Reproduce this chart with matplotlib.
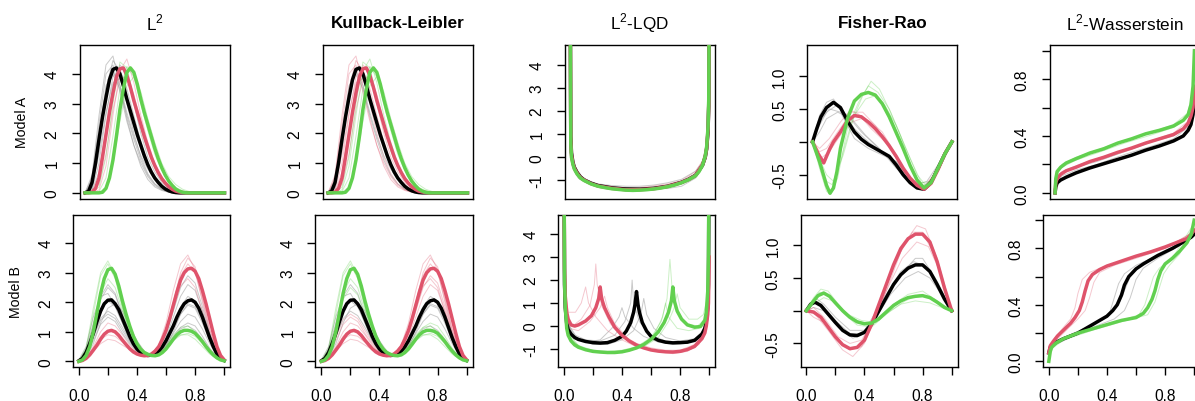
import numpy as np
import matplotlib.pyplot as plt

plt.rcParams['font.family'] = ['Liberation Sans', 'DejaVu Sans']
plt.rcParams['mathtext.fontset'] = 'custom'
plt.rcParams['mathtext.rm'] = 'Liberation Sans'
plt.rcParams['mathtext.bf'] = 'Liberation Sans:bold'

BLACK = 'black'
RED = '#DF536B'
GREEN = '#61D04F'
GRAY = '#9E9E9E'

grid41 = np.linspace(0, 1, 41)
grid21 = np.linspace(0, 1, 21)

# ---------------- densities, model A (L2 / KL) ----------------
densA_black = [0, 0.05, 0.35, 1.0, 1.8, 2.55, 3.2, 3.8, 4.15, 4.2, 4.0, 3.6, 3.15, 2.75,
               2.35, 1.95, 1.6, 1.25, 0.95, 0.7, 0.5, 0.35, 0.22, 0.13, 0.07, 0.03, 0.01,
               0, 0, 0, 0, 0, 0, 0, 0, 0, 0, 0, 0, 0, 0]
densA_red = [0, 0, 0.02, 0.15, 0.5, 1.2, 1.95, 2.7, 3.35, 3.9, 4.17, 4.2, 3.95, 3.55, 3.1,
             2.7, 2.3, 1.9, 1.55, 1.2, 0.92, 0.68, 0.48, 0.33, 0.21, 0.12, 0.06, 0.03, 0.01,
             0, 0, 0, 0, 0, 0, 0, 0, 0, 0, 0, 0]
densA_green = [0, 0, 0, 0, 0, 0.02, 0.15, 0.5, 1.1, 1.9, 2.8, 3.5, 4.05, 4.2, 4.05, 3.65,
               3.15, 2.7, 2.3, 1.9, 1.5, 1.15, 0.85, 0.6, 0.4, 0.25, 0.13, 0.06, 0.02,
               0, 0, 0, 0, 0, 0, 0, 0, 0, 0, 0, 0]
densA_samples = [
    [0, 0.6, 2.6, 4.3, 4.6, 3.6, 2.5, 1.6, 0.9, 0.45, 0.2, 0.08, 0.02, 0, 0, 0, 0, 0, 0, 0, 0],
    [0, 0.2, 1.3, 2.7, 3.7, 3.85, 3.2, 2.3, 1.5, 0.9, 0.5, 0.25, 0.1, 0.03, 0, 0, 0, 0, 0, 0, 0],
    [0, 0.05, 0.7, 2.1, 3.6, 4.3, 4.0, 3.0, 2.0, 1.2, 0.7, 0.35, 0.15, 0.05, 0.01, 0, 0, 0, 0, 0, 0],
    [0, 0, 0.3, 1.3, 2.8, 3.8, 3.95, 3.3, 2.4, 1.6, 0.95, 0.5, 0.25, 0.1, 0.03, 0, 0, 0, 0, 0, 0],
    [0, 0, 0.05, 0.5, 1.9, 3.5, 4.25, 3.9, 3.0, 2.1, 1.3, 0.75, 0.4, 0.18, 0.07, 0.02, 0, 0, 0, 0, 0],
    [0, 0, 0, 0.2, 1.0, 2.4, 3.6, 3.9, 3.4, 2.5, 1.7, 1.0, 0.55, 0.28, 0.12, 0.04, 0.01, 0, 0, 0, 0],
    [0, 0.4, 2.0, 3.6, 4.0, 3.5, 2.6, 1.8, 1.1, 0.6, 0.3, 0.12, 0.04, 0, 0, 0, 0, 0, 0, 0, 0],
    [0, 0.3, 1.8, 3.5, 4.45, 4.1, 3.0, 2.0, 1.2, 0.65, 0.3, 0.12, 0.04, 0.01, 0, 0, 0, 0, 0, 0, 0],
    [0, 0, 0.1, 0.9, 2.6, 4.1, 4.5, 3.7, 2.6, 1.7, 1.0, 0.55, 0.25, 0.1, 0.03, 0, 0, 0, 0, 0, 0],
    [0, 0.5, 2.3, 4.0, 4.3, 3.4, 2.4, 1.6, 1.0, 0.55, 0.25, 0.1, 0.03, 0, 0, 0, 0, 0, 0, 0, 0],
    [0, 0.1, 1.0, 2.6, 3.9, 4.15, 3.5, 2.6, 1.7, 1.0, 0.55, 0.28, 0.12, 0.04, 0.01, 0, 0, 0, 0, 0, 0],
    [0, 0, 0.2, 1.2, 3.0, 4.4, 4.2, 3.2, 2.2, 1.4, 0.85, 0.45, 0.2, 0.08, 0.02, 0, 0, 0, 0, 0, 0],
    [0, 0.15, 1.5, 3.3, 4.1, 3.6, 2.7, 1.9, 1.25, 0.8, 0.45, 0.22, 0.1, 0.04, 0.01, 0, 0, 0, 0, 0, 0],
]
l2A_sample_cols = [GRAY, GRAY, GRAY, RED, GREEN, GREEN, GRAY, GRAY, RED, GRAY, GRAY, GREEN, GRAY]
klA_sample_cols = [RED, RED, RED, RED, GREEN, GREEN, GRAY, RED, GREEN, RED, RED, GREEN, GRAY]

# ---------------- densities, model B (L2 / KL) ----------------
densB_black = [0.02, 0.1, 0.3, 0.6, 0.95, 1.35, 1.7, 1.95, 2.07, 2.08, 1.95, 1.75, 1.45, 1.15,
               0.85, 0.6, 0.42, 0.3, 0.23, 0.2, 0.21, 0.25, 0.35, 0.5, 0.7, 0.95, 1.2, 1.5,
               1.75, 1.95, 2.05, 2.08, 2.0, 1.8, 1.5, 1.15, 0.8, 0.5, 0.25, 0.1, 0.03]
densB_red = [0.0, 0.03, 0.1, 0.22, 0.38, 0.55, 0.75, 0.92, 1.02, 1.05, 1.0, 0.88, 0.72, 0.57,
             0.43, 0.32, 0.25, 0.21, 0.19, 0.2, 0.25, 0.35, 0.5, 0.75, 1.05, 1.45, 1.9, 2.35,
             2.75, 3.0, 3.13, 3.15, 3.05, 2.8, 2.4, 1.95, 1.45, 0.95, 0.5, 0.2, 0.05]
densB_green = [0.0, 0.05, 0.2, 0.5, 1.0, 1.65, 2.3, 2.8, 3.1, 3.15, 2.95, 2.55, 2.05, 1.6,
               1.2, 0.85, 0.6, 0.42, 0.3, 0.24, 0.2, 0.19, 0.22, 0.3, 0.42, 0.58, 0.75, 0.9,
               1.0, 1.05, 1.05, 1.02, 0.95, 0.82, 0.67, 0.5, 0.35, 0.22, 0.12, 0.05, 0.02]
densB_samples = [
    [0, 0.4, 1.3, 2.2, 2.6, 2.3, 1.6, 0.9, 0.45, 0.25, 0.2, 0.3, 0.55, 0.95, 1.35, 1.6, 1.5, 1.1, 0.6, 0.2, 0.03],
    [0, 0.2, 0.8, 1.4, 1.6, 1.45, 1.05, 0.65, 0.35, 0.2, 0.2, 0.35, 0.8, 1.5, 2.2, 2.6, 2.4, 1.7, 0.9, 0.3, 0.05],
    [0, 0.15, 0.6, 1.3, 1.8, 1.95, 1.7, 1.2, 0.7, 0.35, 0.2, 0.25, 0.5, 1.0, 1.6, 1.95, 1.85, 1.4, 0.8, 0.3, 0.05],
    [0.05, 0.5, 1.5, 2.2, 2.3, 1.9, 1.3, 0.7, 0.35, 0.2, 0.2, 0.3, 0.5, 0.8, 1.1, 1.2, 1.05, 0.75, 0.4, 0.15, 0.02],
    [0, 0.1, 0.4, 0.75, 0.9, 0.85, 0.65, 0.45, 0.3, 0.2, 0.22, 0.45, 1.0, 2.0, 3.0, 3.5, 3.2, 2.2, 1.1, 0.35, 0.05],
    [0, 0.15, 0.5, 1.0, 1.3, 1.2, 0.9, 0.55, 0.3, 0.2, 0.2, 0.4, 0.95, 1.8, 2.55, 2.8, 2.5, 1.7, 0.85, 0.3, 0.05],
    [0.02, 0.4, 1.6, 2.9, 3.3, 2.8, 1.8, 0.95, 0.45, 0.25, 0.2, 0.28, 0.5, 0.75, 0.9, 0.9, 0.75, 0.5, 0.25, 0.08, 0.02],
    [0, 0.3, 1.2, 2.3, 2.8, 2.5, 1.7, 0.95, 0.5, 0.3, 0.22, 0.3, 0.55, 0.9, 1.15, 1.2, 1.0, 0.7, 0.35, 0.12, 0.02],
    [0, 0.25, 0.85, 1.45, 1.7, 1.55, 1.15, 0.7, 0.4, 0.22, 0.18, 0.3, 0.65, 1.2, 1.85, 2.2, 2.05, 1.5, 0.8, 0.28, 0.04],
    [0, 0.1, 0.35, 0.6, 0.75, 0.7, 0.55, 0.4, 0.28, 0.2, 0.25, 0.55, 1.3, 2.4, 3.3, 3.6, 3.1, 2.0, 0.95, 0.3, 0.04],
    [0, 0.3, 1.0, 1.75, 2.05, 1.85, 1.3, 0.75, 0.4, 0.22, 0.2, 0.3, 0.6, 1.1, 1.6, 1.9, 1.8, 1.3, 0.7, 0.25, 0.04],
    [0, 0.35, 1.2, 2.1, 2.5, 2.25, 1.55, 0.85, 0.42, 0.24, 0.2, 0.28, 0.5, 0.85, 1.15, 1.3, 1.2, 0.85, 0.45, 0.15, 0.03],
    [0, 0.45, 1.8, 3.0, 3.4, 2.9, 1.85, 1.0, 0.5, 0.27, 0.2, 0.25, 0.45, 0.7, 0.88, 0.95, 0.85, 0.6, 0.3, 0.1, 0.02],
    [0, 0.12, 0.45, 0.85, 1.05, 0.95, 0.7, 0.45, 0.3, 0.2, 0.22, 0.45, 1.05, 2.0, 2.9, 3.3, 3.0, 2.1, 1.05, 0.35, 0.05],
    [0, 0.18, 0.7, 1.25, 1.5, 1.35, 0.95, 0.6, 0.32, 0.2, 0.2, 0.38, 0.9, 1.7, 2.5, 2.9, 2.65, 1.85, 0.95, 0.32, 0.05],
]
l2B_sample_cols = [GRAY, GRAY, GRAY, GRAY, RED, RED, GREEN, GREEN, GRAY, RED,
                   GRAY, GRAY, GREEN, RED, GRAY]
klB_sample_cols = [GRAY, RED, GRAY, GRAY, RED, RED, GREEN, GREEN, GRAY, RED,
                   GRAY, GREEN, GREEN, RED, RED]

# ---------------- log quantile densities, (x, y) knots ----------------
lqdA_black = [(0, 9), (0.005, 0.9), (0.01, 0.2), (0.02, -0.2), (0.03, -0.42), (0.05, -0.65),
              (0.075, -0.85), (0.1, -0.97), (0.15, -1.12), (0.2, -1.22), (0.3, -1.32), (0.4, -1.37),
              (0.5, -1.38), (0.6, -1.34), (0.7, -1.25), (0.8, -1.08), (0.85, -0.95), (0.9, -0.78),
              (0.95, -0.35), (0.97, 0.0), (0.98, 0.35), (0.99, 1.1), (0.995, 2.2), (1, 9)]
lqdA_red = [(0, 9), (0.005, 0.8), (0.01, 0.1), (0.02, -0.25), (0.03, -0.46), (0.05, -0.68),
            (0.075, -0.88), (0.1, -0.98), (0.15, -1.14), (0.2, -1.24), (0.3, -1.34), (0.4, -1.4),
            (0.5, -1.4), (0.6, -1.36), (0.7, -1.26), (0.8, -1.09), (0.85, -0.96), (0.9, -0.79),
            (0.95, -0.33), (0.97, 0.02), (0.98, 0.4), (0.99, 1.2), (0.995, 2.3), (1, 9)]
lqdA_green = [(0, 9), (0.005, 0.6), (0.01, 0.0), (0.02, -0.3), (0.03, -0.5), (0.05, -0.72),
              (0.075, -0.9), (0.1, -1.0), (0.15, -1.15), (0.2, -1.25), (0.25, -1.31), (0.3, -1.36),
              (0.35, -1.39), (0.4, -1.42), (0.45, -1.43), (0.5, -1.42), (0.55, -1.4), (0.6, -1.37),
              (0.65, -1.33), (0.7, -1.27), (0.75, -1.2), (0.8, -1.1), (0.85, -0.97), (0.9, -0.8),
              (0.925, -0.62), (0.95, -0.35), (0.97, 0.05), (0.98, 0.45), (0.99, 1.3), (0.995, 2.5), (1, 9)]
lqdA_samples = [
    (GRAY, [(0, 8), (0.005, 1.2), (0.01, 0.3), (0.03, -0.4), (0.06, -0.75), (0.1, -0.95), (0.2, -1.15),
            (0.3, -1.22), (0.4, -1.25), (0.5, -1.25), (0.6, -1.2), (0.7, -1.1), (0.8, -0.95), (0.9, -0.6),
            (0.95, -0.2), (0.98, 0.5), (0.995, 2), (1, 8)]),
    (GRAY, [(0, 8), (0.005, 0.6), (0.01, -0.1), (0.03, -0.6), (0.06, -0.9), (0.1, -1.05), (0.2, -1.3),
            (0.3, -1.4), (0.4, -1.42), (0.5, -1.38), (0.6, -1.35), (0.7, -1.35), (0.8, -1.25), (0.9, -0.9),
            (0.95, -0.45), (0.98, 0.2), (0.995, 1.8), (1, 8)]),
    (GRAY, [(0, 8), (0.005, 1.0), (0.01, 0.2), (0.03, -0.5), (0.06, -0.85), (0.1, -1.0), (0.2, -1.2),
            (0.3, -1.3), (0.4, -1.3), (0.5, -1.32), (0.6, -1.3), (0.7, -1.25), (0.8, -1.05), (0.9, -0.7),
            (0.95, -0.3), (0.98, 0.4), (0.995, 2.2), (1, 8)]),
    (RED, [(0, 8), (0.005, 1.1), (0.01, 0.3), (0.03, -0.45), (0.06, -0.8), (0.1, -0.98), (0.2, -1.18),
           (0.3, -1.28), (0.4, -1.33), (0.5, -1.3), (0.6, -1.24), (0.7, -1.15), (0.8, -1.0), (0.9, -0.62),
           (0.95, -0.15), (0.98, 0.6), (0.995, 2.4), (1, 8)]),
    (GREEN, [(0, 8), (0.005, 0.7), (0.01, 0.0), (0.03, -0.55), (0.06, -0.88), (0.1, -1.03), (0.2, -1.27),
             (0.3, -1.38), (0.4, -1.44), (0.5, -1.45), (0.6, -1.4), (0.7, -1.3), (0.8, -1.15), (0.9, -0.85),
             (0.95, -0.4), (0.98, 0.3), (0.995, 2.0), (1, 8)]),
]

lqdB_black = [(0, 9), (0.005, 1.8), (0.01, 0.8), (0.02, 0.1), (0.03, -0.15), (0.05, -0.35),
              (0.075, -0.5), (0.1, -0.58), (0.15, -0.67), (0.2, -0.72), (0.25, -0.74), (0.3, -0.72),
              (0.35, -0.62), (0.4, -0.45), (0.43, -0.22), (0.46, 0.15), (0.48, 0.6), (0.49, 0.95),
              (0.5, 1.5), (0.51, 0.95), (0.52, 0.6), (0.54, 0.15), (0.57, -0.22), (0.6, -0.45),
              (0.65, -0.62), (0.7, -0.7), (0.75, -0.73), (0.8, -0.72), (0.85, -0.7), (0.9, -0.62),
              (0.95, -0.35), (0.97, -0.1), (0.98, 0.2), (0.99, 0.8), (0.995, 1.8), (1, 9)]
lqdB_red = [(0, 9), (0.005, 2.5), (0.01, 1.3), (0.02, 0.6), (0.03, 0.3), (0.05, 0.05), (0.075, 0.0),
            (0.1, 0.05), (0.15, 0.22), (0.19, 0.45), (0.22, 0.8), (0.24, 1.2), (0.25, 1.7), (0.26, 1.2),
            (0.28, 0.8), (0.31, 0.4), (0.35, -0.05), (0.4, -0.4), (0.45, -0.65), (0.5, -0.83),
            (0.55, -0.95), (0.6, -1.04), (0.65, -1.09), (0.7, -1.12), (0.75, -1.13), (0.8, -1.1),
            (0.85, -1.02), (0.9, -0.88), (0.95, -0.55), (0.97, -0.3), (0.98, 0.0), (0.99, 0.5),
            (0.995, 1.0), (1, 3)]
lqdB_green = [(0, 9), (0.005, 2.0), (0.01, 0.8), (0.02, -0.1), (0.03, -0.4), (0.05, -0.65),
              (0.075, -0.82), (0.1, -0.92), (0.15, -1.03), (0.2, -1.1), (0.25, -1.13), (0.3, -1.15),
              (0.35, -1.15), (0.4, -1.12), (0.45, -1.05), (0.5, -0.95), (0.55, -0.8), (0.6, -0.58),
              (0.65, -0.25), (0.69, 0.15), (0.72, 0.6), (0.74, 1.1), (0.75, 1.7), (0.76, 1.1),
              (0.78, 0.65), (0.81, 0.3), (0.85, 0.05), (0.9, -0.05), (0.94, -0.02), (0.97, 0.25),
              (0.98, 0.6), (0.99, 1.5), (0.995, 3), (1, 9)]
lqdB_samples = [
    (RED, [(0, 6), (0.01, 1.2), (0.03, 0.3), (0.06, 0.0), (0.12, 0.3), (0.18, 0.9), (0.21, 1.8), (0.22, 2.7),
           (0.23, 1.8), (0.26, 0.9), (0.32, 0.1), (0.4, -0.4), (0.5, -0.75), (0.6, -0.95), (0.7, -1.05),
           (0.8, -1.05), (0.9, -0.8), (0.96, -0.3), (0.99, 0.6), (1, 3)]),
    (RED, [(0, 6), (0.01, 1.5), (0.03, 0.6), (0.08, 0.6), (0.12, 1.0), (0.15, 1.7), (0.17, 1.0), (0.22, 0.4),
           (0.3, -0.2), (0.4, -0.6), (0.5, -0.9), (0.6, -1.05), (0.7, -1.15), (0.8, -1.15), (0.9, -0.95),
           (0.96, -0.5), (0.99, 0.3), (1, 2)]),
    (RED, [(0, 5), (0.01, 0.8), (0.04, -0.1), (0.1, -0.2), (0.18, 0.2), (0.25, 0.8), (0.28, 1.3), (0.3, 0.8),
           (0.35, 0.1), (0.45, -0.6), (0.55, -0.95), (0.65, -1.1), (0.75, -1.2), (0.85, -1.1), (0.93, -0.8),
           (0.98, -0.1), (1, 2)]),
    (GRAY, [(0, 6), (0.01, 1.0), (0.03, 0.1), (0.08, -0.4), (0.15, -0.6), (0.25, -0.65), (0.35, -0.4),
            (0.42, 0.2), (0.46, 1.0), (0.47, 2.0), (0.48, 1.0), (0.52, 0.2), (0.6, -0.4), (0.7, -0.65),
            (0.8, -0.7), (0.9, -0.6), (0.96, -0.3), (0.99, 0.5), (1, 4)]),
    (GRAY, [(0, 5), (0.02, 0.3), (0.06, -0.4), (0.15, -0.7), (0.25, -0.6), (0.33, -0.1), (0.38, 0.4),
            (0.4, 0.8), (0.42, 0.4), (0.48, -0.1), (0.55, -0.45), (0.65, -0.7), (0.75, -0.8), (0.85, -0.75),
            (0.93, -0.5), (0.98, 0.1), (1, 3)]),
    (GRAY, [(0, 5), (0.02, 0.2), (0.08, -0.5), (0.2, -0.8), (0.3, -0.8), (0.4, -0.6), (0.48, -0.2),
            (0.53, 0.5), (0.55, 1.2), (0.57, 0.5), (0.62, -0.1), (0.7, -0.5), (0.8, -0.65), (0.9, -0.55),
            (0.96, -0.2), (0.99, 0.6), (1, 4)]),
    (GREEN, [(0, 6), (0.01, 0.9), (0.03, -0.3), (0.1, -0.85), (0.2, -1.05), (0.3, -1.1), (0.4, -1.05),
             (0.5, -0.9), (0.6, -0.5), (0.67, 0.2), (0.71, 1.2), (0.73, 2.9), (0.75, 1.2), (0.79, 0.5),
             (0.85, 0.1), (0.92, 0.0), (0.97, 0.3), (0.99, 1.2), (1, 6)]),
    (GREEN, [(0, 5), (0.01, 0.6), (0.04, -0.5), (0.12, -0.95), (0.25, -1.15), (0.4, -1.15), (0.55, -0.9),
             (0.65, -0.5), (0.72, 0.2), (0.76, 0.8), (0.78, 1.4), (0.8, 0.8), (0.86, 0.3), (0.92, 0.3),
             (0.96, 0.5), (0.99, 1.3), (1, 6)]),
    (GREEN, [(0, 5), (0.02, 0.0), (0.06, -0.7), (0.15, -1.0), (0.3, -1.15), (0.45, -1.05), (0.55, -0.85),
             (0.62, -0.4), (0.68, 0.4), (0.7, 1.0), (0.72, 0.4), (0.78, -0.1), (0.86, -0.2), (0.93, -0.1),
             (0.98, 0.4), (1, 4)]),
]

# ---------------- Fisher-Rao (square-root) representations ----------------
frA_black = [(0, 0), (0.03, 0.2), (0.06, 0.38), (0.1, 0.52), (0.15, 0.6), (0.2, 0.52), (0.25, 0.32),
             (0.3, 0.15), (0.35, 0.04), (0.4, -0.04), (0.45, -0.1), (0.5, -0.16), (0.55, -0.22),
             (0.6, -0.35), (0.65, -0.5), (0.7, -0.62), (0.75, -0.7), (0.8, -0.72), (0.85, -0.62),
             (0.9, -0.4), (0.95, -0.18), (1, 0)]
frA_red = [(0, 0), (0.04, -0.18), (0.08, -0.32), (0.1, -0.22), (0.125, -0.1), (0.15, 0.0), (0.2, 0.15),
           (0.25, 0.32), (0.3, 0.4), (0.35, 0.38), (0.4, 0.3), (0.45, 0.2), (0.5, 0.08), (0.55, -0.06),
           (0.6, -0.22), (0.65, -0.4), (0.7, -0.55), (0.75, -0.66), (0.8, -0.72), (0.85, -0.63),
           (0.9, -0.42), (0.95, -0.18), (1, 0)]
frA_green = [(0, 0), (0.05, -0.3), (0.1, -0.66), (0.125, -0.78), (0.15, -0.7), (0.175, -0.45),
             (0.2, -0.1), (0.25, 0.35), (0.3, 0.62), (0.35, 0.72), (0.4, 0.75), (0.45, 0.71),
             (0.5, 0.58), (0.55, 0.38), (0.6, 0.14), (0.65, -0.1), (0.7, -0.36), (0.75, -0.58),
             (0.8, -0.7), (0.85, -0.62), (0.9, -0.4), (0.95, -0.18), (1, 0)]
frA_samples = [
    (GRAY, [(0, 0), (0.05, 0.4), (0.1, 0.6), (0.15, 0.65), (0.2, 0.5), (0.3, 0.2), (0.4, 0.0), (0.5, -0.15),
            (0.6, -0.3), (0.7, -0.55), (0.8, -0.7), (0.9, -0.45), (1, 0)]),
    (GRAY, [(0, 0), (0.05, 0.25), (0.1, 0.45), (0.17, 0.55), (0.25, 0.4), (0.35, 0.15), (0.45, -0.05),
            (0.55, -0.25), (0.65, -0.5), (0.75, -0.65), (0.82, -0.6), (0.9, -0.35), (1, 0)]),
    (GRAY, [(0, 0), (0.05, 0.3), (0.12, 0.5), (0.2, 0.45), (0.3, 0.05), (0.4, -0.1), (0.5, -0.2),
            (0.6, -0.3), (0.7, -0.6), (0.78, -0.7), (0.86, -0.55), (0.92, -0.3), (1, 0)]),
    (GRAY, [(0, 0), (0.05, 0.15), (0.1, 0.35), (0.18, 0.45), (0.28, 0.35), (0.38, 0.1), (0.48, -0.1),
            (0.6, -0.4), (0.7, -0.6), (0.8, -0.68), (0.88, -0.5), (0.95, -0.2), (1, 0)]),
    (RED, [(0, 0), (0.05, -0.15), (0.1, -0.1), (0.18, 0.15), (0.28, 0.45), (0.36, 0.45), (0.45, 0.25),
           (0.55, -0.05), (0.65, -0.45), (0.75, -0.65), (0.82, -0.7), (0.9, -0.42), (1, 0)]),
    (RED, [(0, 0), (0.06, -0.25), (0.12, -0.15), (0.2, 0.1), (0.28, 0.3), (0.35, 0.35), (0.42, 0.3),
           (0.5, 0.15), (0.6, -0.2), (0.7, -0.55), (0.8, -0.72), (0.9, -0.4), (1, 0)]),
    (RED, [(0, 0), (0.05, -0.1), (0.12, 0.05), (0.2, 0.3), (0.27, 0.48), (0.33, 0.42), (0.42, 0.2),
           (0.52, 0.0), (0.62, -0.3), (0.72, -0.6), (0.8, -0.7), (0.9, -0.4), (1, 0)]),
    (GREEN, [(0, 0), (0.05, -0.35), (0.1, -0.6), (0.14, -0.65), (0.2, -0.3), (0.28, 0.3), (0.36, 0.7),
             (0.42, 0.92), (0.48, 0.8), (0.56, 0.45), (0.65, 0.0), (0.75, -0.5), (0.82, -0.68),
             (0.9, -0.45), (1, 0)]),
    (GREEN, [(0, 0), (0.05, -0.25), (0.1, -0.5), (0.15, -0.6), (0.22, -0.2), (0.3, 0.4), (0.38, 0.65),
             (0.45, 0.7), (0.52, 0.55), (0.6, 0.25), (0.7, -0.25), (0.78, -0.62), (0.86, -0.6),
             (0.93, -0.3), (1, 0)]),
    (GREEN, [(0, 0), (0.05, -0.4), (0.1, -0.75), (0.13, -0.8), (0.18, -0.55), (0.25, 0.2), (0.33, 0.6),
             (0.4, 0.85), (0.47, 0.75), (0.55, 0.5), (0.63, 0.1), (0.72, -0.45), (0.8, -0.72),
             (0.9, -0.42), (1, 0)]),
]

frB_black = [(0, 0), (0.03, 0.1), (0.06, 0.13), (0.1, 0.08), (0.15, -0.05), (0.2, -0.18), (0.25, -0.3),
             (0.3, -0.37), (0.35, -0.38), (0.4, -0.33), (0.45, -0.2), (0.5, 0.0), (0.55, 0.2),
             (0.6, 0.4), (0.65, 0.55), (0.7, 0.65), (0.75, 0.7), (0.8, 0.7), (0.85, 0.6), (0.9, 0.4),
             (0.95, 0.18), (1, 0)]
frB_red = [(0, 0), (0.05, -0.02), (0.1, -0.1), (0.15, -0.25), (0.2, -0.4), (0.25, -0.52), (0.3, -0.58),
           (0.35, -0.56), (0.4, -0.45), (0.45, -0.2), (0.5, 0.1), (0.55, 0.4), (0.6, 0.7), (0.65, 0.95),
           (0.7, 1.1), (0.75, 1.17), (0.8, 1.17), (0.85, 1.05), (0.9, 0.75), (0.95, 0.35), (1, 0)]
frB_green = [(0, 0), (0.04, 0.12), (0.08, 0.23), (0.12, 0.27), (0.16, 0.22), (0.2, 0.12), (0.25, 0.0),
             (0.3, -0.1), (0.35, -0.17), (0.4, -0.2), (0.45, -0.19), (0.5, -0.12), (0.55, -0.02),
             (0.6, 0.08), (0.65, 0.15), (0.7, 0.2), (0.75, 0.22), (0.8, 0.23), (0.85, 0.2), (0.9, 0.13),
             (0.95, 0.05), (1, 0)]
frB_samples = [
    (GRAY, [(0, 0), (0.05, 0.15), (0.1, 0.1), (0.2, -0.15), (0.3, -0.35), (0.38, -0.35), (0.45, -0.2),
            (0.55, 0.2), (0.65, 0.55), (0.75, 0.8), (0.8, 0.8), (0.9, 0.45), (1, 0)]),
    (GRAY, [(0, 0), (0.05, 0.05), (0.12, 0.0), (0.22, -0.25), (0.32, -0.42), (0.4, -0.35), (0.48, -0.1),
            (0.58, 0.25), (0.68, 0.5), (0.77, 0.6), (0.85, 0.5), (0.93, 0.25), (1, 0)]),
    (GRAY, [(0, 0), (0.06, 0.2), (0.12, 0.1), (0.2, -0.1), (0.3, -0.3), (0.4, -0.3), (0.47, -0.05),
            (0.55, 0.25), (0.65, 0.6), (0.74, 0.75), (0.82, 0.68), (0.92, 0.35), (1, 0)]),
    (RED, [(0, 0), (0.06, -0.05), (0.15, -0.3), (0.25, -0.6), (0.32, -0.7), (0.4, -0.5), (0.48, -0.05),
           (0.58, 0.55), (0.68, 1.05), (0.76, 1.3), (0.82, 1.25), (0.9, 0.8), (1, 0)]),
    (RED, [(0, 0), (0.05, 0.05), (0.12, -0.1), (0.22, -0.4), (0.3, -0.5), (0.38, -0.45), (0.46, -0.15),
           (0.56, 0.35), (0.66, 0.8), (0.76, 1.05), (0.84, 0.98), (0.92, 0.6), (1, 0)]),
    (RED, [(0, 0), (0.05, -0.1), (0.14, -0.2), (0.24, -0.5), (0.3, -0.6), (0.38, -0.55), (0.45, -0.25),
           (0.55, 0.3), (0.65, 0.9), (0.73, 1.2), (0.8, 1.2), (0.88, 0.85), (1, 0)]),
    (GREEN, [(0, 0), (0.05, 0.2), (0.1, 0.33), (0.15, 0.3), (0.22, 0.1), (0.3, -0.1), (0.4, -0.2),
             (0.5, -0.15), (0.6, 0.1), (0.7, 0.25), (0.8, 0.3), (0.9, 0.15), (1, 0)]),
    (GREEN, [(0, 0), (0.05, 0.1), (0.12, 0.2), (0.18, 0.15), (0.26, -0.05), (0.35, -0.22), (0.45, -0.25),
             (0.55, -0.05), (0.65, 0.1), (0.75, 0.15), (0.85, 0.12), (0.93, 0.05), (1, 0)]),
    (GREEN, [(0, 0), (0.04, 0.15), (0.09, 0.28), (0.14, 0.25), (0.2, 0.12), (0.28, -0.05), (0.38, -0.15),
             (0.48, -0.18), (0.58, 0.0), (0.68, 0.15), (0.78, 0.25), (0.88, 0.18), (1, 0)]),
]

# ---------------- quantile functions (L2-Wasserstein) ----------------
wA_black = [(0, 0), (0.005, 0.04), (0.015, 0.07), (0.04, 0.09), (0.08, 0.11), (0.15, 0.14), (0.25, 0.175),
            (0.35, 0.205), (0.45, 0.235), (0.55, 0.265), (0.65, 0.3), (0.75, 0.33), (0.85, 0.365),
            (0.92, 0.4), (0.955, 0.44), (0.975, 0.48), (0.99, 0.55), (1.0, 0.7)]
wA_red = [(0, 0), (0.005, 0.07), (0.015, 0.1), (0.04, 0.13), (0.08, 0.155), (0.15, 0.18), (0.25, 0.22),
          (0.35, 0.25), (0.45, 0.285), (0.55, 0.315), (0.65, 0.35), (0.75, 0.38), (0.85, 0.41),
          (0.92, 0.45), (0.955, 0.49), (0.975, 0.54), (0.99, 0.6), (1.0, 0.75)]
wA_green = [(0, 0), (0.005, 0.1), (0.015, 0.15), (0.04, 0.18), (0.08, 0.21), (0.15, 0.24), (0.25, 0.28),
            (0.35, 0.31), (0.45, 0.35), (0.55, 0.38), (0.65, 0.415), (0.75, 0.44), (0.85, 0.47),
            (0.92, 0.51), (0.955, 0.55), (0.975, 0.62), (0.99, 0.75), (1.0, 1.0)]
wA_samples = [
    (GRAY, [(0, 0), (0.01, 0.08), (0.05, 0.12), (0.15, 0.16), (0.3, 0.2), (0.5, 0.27), (0.7, 0.33),
            (0.85, 0.38), (0.95, 0.46), (0.99, 0.56), (1, 0.7)]),
    (GRAY, [(0, 0), (0.01, 0.1), (0.05, 0.14), (0.15, 0.18), (0.3, 0.22), (0.5, 0.29), (0.7, 0.36),
            (0.85, 0.4), (0.95, 0.48), (0.99, 0.58), (1, 0.7)]),
    (RED, [(0, 0), (0.01, 0.11), (0.05, 0.15), (0.15, 0.19), (0.3, 0.24), (0.5, 0.3), (0.7, 0.37),
           (0.85, 0.42), (0.95, 0.5), (0.99, 0.6), (1, 0.75)]),
    (GREEN, [(0, 0), (0.01, 0.15), (0.05, 0.2), (0.15, 0.25), (0.3, 0.3), (0.5, 0.37), (0.7, 0.43),
             (0.85, 0.48), (0.95, 0.56), (0.99, 0.7), (1, 1.0)]),
    (GREEN, [(0, 0), (0.01, 0.13), (0.05, 0.18), (0.15, 0.23), (0.3, 0.28), (0.5, 0.35), (0.7, 0.41),
             (0.85, 0.46), (0.95, 0.53), (0.99, 0.68), (1, 1.0)]),
]

wB_black = [(0, 0.06), (0.01, 0.1), (0.03, 0.12), (0.06, 0.14), (0.1, 0.16), (0.15, 0.18), (0.2, 0.2),
            (0.25, 0.23), (0.3, 0.26), (0.35, 0.29), (0.4, 0.32), (0.44, 0.36), (0.47, 0.4), (0.5, 0.47),
            (0.52, 0.54), (0.55, 0.6), (0.6, 0.655), (0.65, 0.69), (0.7, 0.72), (0.75, 0.75),
            (0.8, 0.775), (0.85, 0.8), (0.9, 0.83), (0.95, 0.86), (0.98, 0.88), (1.0, 0.9)]
wB_red = [(0, 0.06), (0.01, 0.11), (0.03, 0.14), (0.06, 0.18), (0.1, 0.22), (0.15, 0.27), (0.18, 0.31),
          (0.21, 0.36), (0.23, 0.42), (0.25, 0.5), (0.27, 0.57), (0.3, 0.615), (0.35, 0.65), (0.4, 0.675),
          (0.5, 0.71), (0.6, 0.745), (0.7, 0.775), (0.8, 0.81), (0.9, 0.85), (0.95, 0.87), (0.98, 0.9),
          (1.0, 0.93)]
wB_green = [(0, 0.0), (0.01, 0.07), (0.02, 0.1), (0.05, 0.13), (0.1, 0.16), (0.2, 0.2), (0.3, 0.23),
            (0.4, 0.26), (0.5, 0.29), (0.6, 0.31), (0.65, 0.34), (0.68, 0.38), (0.71, 0.44), (0.73, 0.5),
            (0.75, 0.58), (0.77, 0.64), (0.8, 0.69), (0.85, 0.73), (0.9, 0.78), (0.95, 0.84),
            (0.98, 0.9), (1.0, 1.0)]
wB_samples = [
    (GRAY, [(0, 0.05), (0.03, 0.12), (0.15, 0.19), (0.3, 0.26), (0.38, 0.3), (0.42, 0.35), (0.45, 0.45),
            (0.48, 0.55), (0.52, 0.62), (0.6, 0.68), (0.75, 0.75), (0.9, 0.83), (1, 0.9)]),
    (GRAY, [(0, 0.05), (0.03, 0.11), (0.15, 0.17), (0.3, 0.24), (0.45, 0.3), (0.52, 0.36), (0.56, 0.45),
            (0.6, 0.58), (0.65, 0.66), (0.75, 0.73), (0.9, 0.82), (1, 0.9)]),
    (GRAY, [(0, 0.05), (0.03, 0.12), (0.15, 0.18), (0.3, 0.26), (0.4, 0.32), (0.48, 0.4), (0.52, 0.5),
            (0.56, 0.6), (0.62, 0.67), (0.75, 0.74), (0.9, 0.82), (1, 0.9)]),
    (RED, [(0, 0.05), (0.03, 0.15), (0.1, 0.24), (0.15, 0.3), (0.18, 0.38), (0.2, 0.48), (0.23, 0.58),
           (0.28, 0.63), (0.4, 0.68), (0.6, 0.74), (0.8, 0.8), (1, 0.92)]),
    (RED, [(0, 0.05), (0.03, 0.13), (0.1, 0.2), (0.2, 0.3), (0.25, 0.36), (0.28, 0.45), (0.31, 0.56),
           (0.35, 0.63), (0.45, 0.68), (0.6, 0.73), (0.8, 0.8), (1, 0.92)]),
    (GREEN, [(0, 0.0), (0.02, 0.1), (0.1, 0.16), (0.3, 0.23), (0.5, 0.29), (0.62, 0.33), (0.66, 0.4),
             (0.69, 0.5), (0.72, 0.6), (0.76, 0.66), (0.85, 0.73), (1, 0.98)]),
    (GREEN, [(0, 0.0), (0.02, 0.09), (0.1, 0.15), (0.3, 0.22), (0.5, 0.28), (0.68, 0.33), (0.73, 0.42),
             (0.76, 0.52), (0.79, 0.62), (0.83, 0.68), (0.9, 0.76), (1, 0.98)]),
]

titles = ['L$^2$', 'Kullback-Leibler', 'L$^2$-LQD', 'Fisher-Rao', 'L$^2$-Wasserstein']
title_bold = [False, True, False, True, False]
row_labels = ['Model A', 'Model B']

# y-axis setup per column: limits, ticks, tick labels
ylims = [(-0.19, 4.97), (-0.19, 4.97), (-1.78, 4.85), (-0.86, 1.47), (-0.04, 1.04)]
yticks = [[0, 1, 2, 3, 4], [0, 1, 2, 3, 4], [-1, 0, 1, 2, 3, 4],
          [-0.5, 0, 0.5, 1.0], [0, 0.2, 0.4, 0.6, 0.8, 1.0]]
yticklabels = [['0', '1', '2', '3', '4'], ['0', '1', '2', '3', '4'],
               ['-1', '0', '1', '2', '3', '4'], ['-0.5', '', '0.5', '1.0'],
               ['0.0', '', '0.4', '', '0.8', '']]
xticks = [0, 0.2, 0.4, 0.6, 0.8, 1.0]
xticklabels = ['0.0', '', '0.4', '', '0.8', '']

# panel boxes in pixels: (left, top, width, height)
W, H = 1195, 402
lefts_a = [79.5, 322.5, 564.5, 807, 1049.5]
lefts_b = [73, 315.5, 558, 800.5, 1043]
box_a = (46, 150.5, 153.5)
box_b = (215.5, 157, 152.5)

fig = plt.figure(figsize=(W / 100, H / 100), dpi=100)


def add_box(left, top, width, height):
    return fig.add_axes([left / W, 1 - (top + height) / H, width / W, height / H])


def draw(ax, x, y, color, thick):
    if thick:
        ax.plot(x, y, color=color, lw=2.5, zorder=3)
    else:
        a = 0.55 if color == GRAY else 0.32
        ax.plot(x, y, color=color, lw=0.7, alpha=a, zorder=2)


def draw_knots(ax, pts, color, thick):
    arr = np.array(pts, dtype=float)
    draw(ax, arr[:, 0], arr[:, 1], color, thick)


def style(ax, col, bottom_row):
    ax.set_xlim(-0.04, 1.04)
    ax.set_ylim(*ylims[col])
    ax.set_yticks(yticks[col])
    ax.set_yticklabels(yticklabels[col], rotation=90, va='center')
    if bottom_row:
        ax.set_xticks(xticks)
        ax.set_xticklabels(xticklabels)
    else:
        ax.set_xticks([])
    ax.tick_params(axis='both', length=5.8, width=1.0, labelsize=11.2)
    ax.tick_params(axis='y', pad=8.5)
    ax.tick_params(axis='x', pad=9.5)
    for s in ax.spines.values():
        s.set_linewidth(1.0)


axes_a = [add_box(l, box_a[0], box_a[1], box_a[2]) for l in lefts_a]
axes_b = [add_box(l, box_b[0], box_b[1], box_b[2]) for l in lefts_b]

# column 1 and 2: densities
for ax, cols in ((axes_a[0], l2A_sample_cols), (axes_a[1], klA_sample_cols)):
    for y, c in zip(densA_samples, cols):
        draw(ax, grid21, y, c, False)
    draw(ax, grid41, densA_black, BLACK, True)
    draw(ax, grid41, densA_red, RED, True)
    draw(ax, grid41, densA_green, GREEN, True)
for ax, cols in ((axes_b[0], l2B_sample_cols), (axes_b[1], klB_sample_cols)):
    for y, c in zip(densB_samples, cols):
        draw(ax, grid21, y, c, False)
    draw(ax, grid41, densB_black, BLACK, True)
    draw(ax, grid41, densB_red, RED, True)
    draw(ax, grid41, densB_green, GREEN, True)

# columns 3-5: knot-based curves
panels = [
    (axes_a[2], lqdA_samples, lqdA_black, lqdA_red, lqdA_green),
    (axes_b[2], lqdB_samples, lqdB_black, lqdB_red, lqdB_green),
    (axes_a[3], frA_samples, frA_black, frA_red, frA_green),
    (axes_b[3], frB_samples, frB_black, frB_red, frB_green),
    (axes_a[4], wA_samples, wA_black, wA_red, wA_green),
    (axes_b[4], wB_samples, wB_black, wB_red, wB_green),
]
for ax, samples, blk, red, grn in panels:
    for c, pts in samples:
        draw_knots(ax, pts, c, False)
    draw_knots(ax, blk, BLACK, True)
    draw_knots(ax, red, RED, True)
    draw_knots(ax, grn, GREEN, True)

for col in range(5):
    style(axes_a[col], col, False)
    style(axes_b[col], col, True)
    cx = (lefts_a[col] + box_a[1] / 2) / W
    fig.text(cx, 1 - 23 / H, titles[col], ha='center', va='center', fontsize=12.3,
             fontweight='bold' if title_bold[col] else 'normal')

fig.text(22 / W, 1 - 122.75 / H, row_labels[0], rotation=90, ha='center', va='center', fontsize=10.2)
fig.text(16 / W, 1 - 291.75 / H, row_labels[1], rotation=90, ha='center', va='center', fontsize=10.2)

fig.savefig('out.png', dpi=100, facecolor='white')
